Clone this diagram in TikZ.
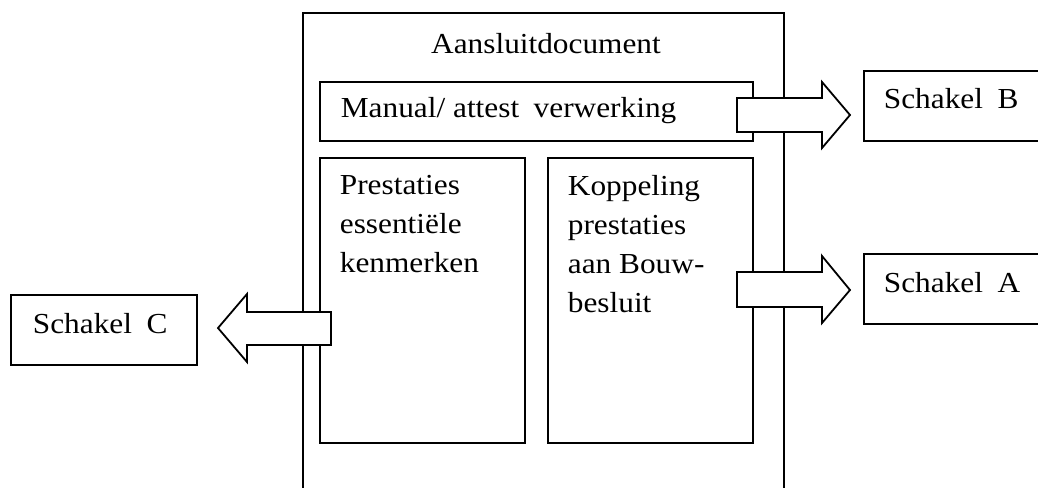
\documentclass[tikz,border=0pt]{standalone}
\usepackage{fontspec}
\setmainfont[FakeStretch=1.08]{Liberation Serif}
\begin{document}
\begin{tikzpicture}[x=1pt,y=-1pt,
  line width=1.8pt,
  box/.style={draw=black,rectangle,inner sep=0pt,anchor=north west},
  lbl/.style={inner sep=0pt,font=\fontsize{29}{39}\selectfont},
  blockarrow/.style={draw=black,fill=white,line join=miter}]
\clip (0,0) rectangle (1038,487);
\fill[white] (0,0) rectangle (1038,487);
% outer document frame (open at the bottom)
\coordinate (oBL) at (303,490);
\coordinate (oTR) at (784,13);
\coordinate (oBR) at (784,490);
\draw (oBL) |- (oTR) -- (oBR);
% inner boxes
\node[box,minimum width=433pt,minimum height=59pt] (manual) at (319,81) {};
\node[box,minimum width=205pt,minimum height=285pt] (prest) at (319,157) {};
\node[box,minimum width=205pt,minimum height=285pt] (kopp) at (547,157) {};
% outside boxes
\node[box,minimum width=200pt,minimum height=70pt] (schB) at (863,70) {};
\node[box,minimum width=200pt,minimum height=70pt] (schA) at (863,253) {};
\node[box,minimum width=186pt,minimum height=70pt] (schC) at (10,294) {};
% texts
\node[lbl,anchor=base] (tdoc) at (546,54) {Aansluitdocument};
\node[lbl,anchor=base west] (tman) at (340,117) {Manual/ attest\enspace verwerking};
\node[lbl,anchor=north west,align=left] (tprest) at (339,174) {Prestaties\\essentiële\\kenmerken};
\node[lbl,anchor=north west,align=left] (tkopp) at (567,174) {Koppeling\\prestaties\\aan Bouw-\\besluit};
\node[lbl,anchor=base west] (tB) at (883,108) {Schakel\enspace B};
\node[lbl,anchor=base west] (tA) at (883,292) {Schakel\enspace A};
\node[lbl,anchor=base west] (tC) at (32,333) {Schakel\enspace C};
% block arrows
\draw[blockarrow] (737,98) -- (822,98) -- (822,82) -- (850,115) -- (822,148) -- (822,132) -- (737,132) -- cycle;
\draw[blockarrow] (737,272) -- (822,272) -- (822,256) -- (850,290) -- (822,323) -- (822,307) -- (737,307) -- cycle;
\draw[blockarrow] (331,312) -- (247,312) -- (247,294) -- (218,328) -- (247,362) -- (247,345) -- (331,345) -- cycle;
\end{tikzpicture}
\end{document}
